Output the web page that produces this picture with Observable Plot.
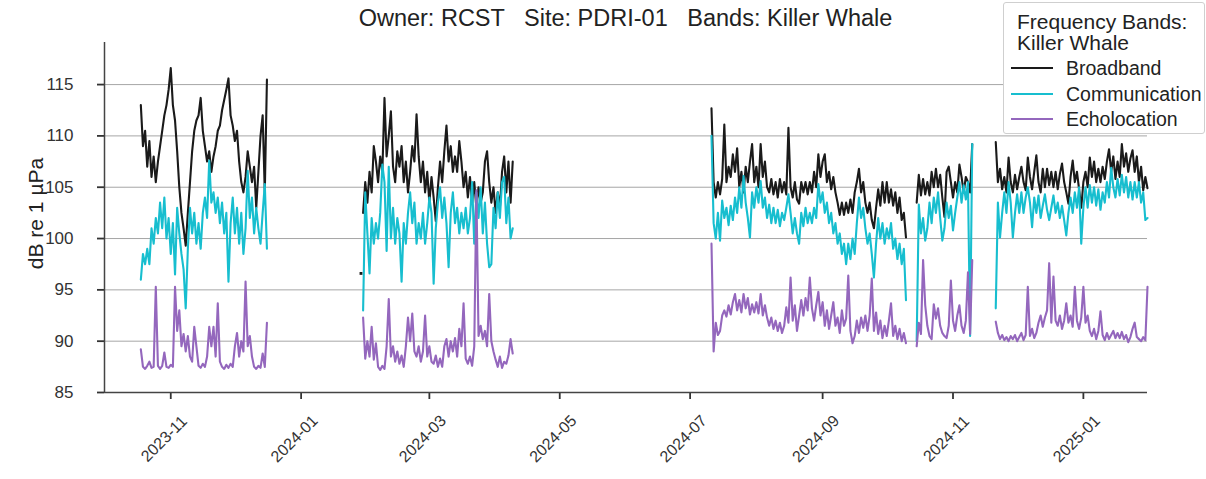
<!DOCTYPE html>
<html>
<head>
<meta charset="utf-8">
<script src="https://cdn.jsdelivr.net/npm/d3@7"></script>
<script src="https://cdn.jsdelivr.net/npm/@observablehq/plot@0.6"></script>
<style>
  html, body { margin: 0; padding: 0; background: #fff; overflow: hidden; }
  #wrap { position: relative; width: 1206px; height: 479px; font-family: "Liberation Sans", Arial, sans-serif; color: #222; }
  #title { position: absolute; top: 3px; left: 625.5px; transform: translateX(-50%); font-size: 23.5px; line-height: 30px; white-space: pre; }
  #legend { position: absolute; left: 1003px; top: 2px; width: 200px; height: 130px; border: 1px solid #cfcfcf; border-radius: 3px; background: #fff; }
  .lg { position: absolute; white-space: pre; }
  .sw { position: absolute; height: 2px; }
</style>
</head>
<body>
<div id="wrap">
  <div id="chart"></div>
  <div id="title">Owner: RCST   Site: PDRI-01   Bands: Killer Whale</div>
  <div id="legend"></div>
</div>
<script>
// ---- data ----
const seriesNames = ["Broadband", "Communication", "Echolocation"];
const seriesColors = ["#1a1a1a", "#17becf", "#9467bd"];
const legendTitle = ["Frequency Bands:", "Killer Whale"];
const yTicks = [85, 90, 95, 100, 105, 110, 115];
const xTickLabels = ["2023-11", "2024-01", "2024-03", "2024-05", "2024-07", "2024-09", "2024-11", "2025-01"];
const xDomain = ["2023-10-01", "2025-01-31"];
const yDomain = [85, 119.1];

const seg1Start = "2023-10-18";
const seg1Broadband = [113, 109, 110.5, 107, 109.5, 106, 108, 105.5, 107.5, 109,
  110.5, 112, 113, 114.5, 116.6, 113, 111.5, 108.5, 105, 102.5,
  101, 99.3, 102.5, 105.5, 108.5, 110.5, 111.5, 112, 113.7, 110.5,
  109, 107.5, 108.5, 106.5, 108, 109, 110.5, 111, 112.5, 113.5,
  114.5, 115.6, 112, 111, 109.5, 110.5, 107.5, 105.5, 104.5, 106,
  108.5, 107, 105.5, 107, 103, 106.5, 110, 112, 104.5, 115.5];
const seg1Communication = [96, 98.5, 97.5, 99, 97.5, 101, 99.5, 102, 100.5, 103.5,
  101, 104, 100, 102, 98.5, 101.5, 96.5, 103, 100.5, 98.5,
  97, 93.2, 99, 103, 100.5, 102.5, 99.5, 101.5, 99, 102.5,
  104, 102, 107.6, 103.5, 104.5, 102.5, 104, 101.5, 103.5, 100.5,
  102.5, 95.8, 101.5, 104, 100.5, 103, 99.5, 102.5, 98.5, 101,
  106.6, 102, 104, 100.5, 103, 101, 99.5, 102.5, 105.3, 99];
const seg1Echolocation = [89.2, 87.5, 87.3, 87.6, 88, 87.4, 87.5, 95.3, 87.6, 87.3,
  87.6, 88.9, 87.5, 87.4, 87.7, 87.5, 95.3, 91, 93, 89.5,
  90.7, 89, 90.5, 88.5, 88, 91.4, 89.5, 87.6, 87.4, 87.8,
  87.5, 88.5, 91.4, 89.5, 91.4, 88.5, 93.7, 88, 87.5, 87.3,
  87.7, 87.4, 87.8, 87.5, 89.5, 90.8, 88.5, 90, 89, 95.8,
  89.5, 90.5, 88.5, 87.5, 87.3, 87.6, 87.4, 88.8, 87.5, 91.8];

const seg2Start = "2024-01-30";
const seg2Broadband = [102.5, 105.5, 103.5, 106.5, 104.5, 109, 107.5, 105.5, 108, 106.5,
  113.7, 108, 110, 112.4, 107, 105.5, 108.5, 107, 109, 105.5,
  107.5, 104.5, 106.5, 109, 107.5, 112.1, 108, 105.5, 107.5, 104.5,
  106.5, 103.5, 106, 104, 101.7, 105, 107.5, 105.5, 108.5, 111,
  107.5, 109, 106.5, 108, 106.5, 109.5, 107.5, 105, 106.5, 104,
  106, 103.5, 105.5, 103, 105, 103.5, 104.5, 107.5, 108.5, 105.5,
  103.5, 105, 102.5, 104.5, 103, 106.5, 108, 104.5, 107.5, 103.5,
  107.5];
const seg2Communication = [93, 104.5, 100.5, 96.6, 102, 99.5, 101.5, 100, 102.5, 107.2,
  105.5, 98.8, 107, 100, 103, 99.5, 102, 100.5, 95.8, 101.5,
  99.5, 102.5, 104.5, 101.5, 103.5, 99.5, 101.5, 100, 102.5, 99.5,
  101.5, 104, 102.5, 95.6, 101, 103.5, 105, 102, 104, 101.5,
  97.2, 102.5, 104.5, 101.5, 103, 100.5, 102.5, 101, 103, 100.5,
  102, 105.5, 99.5, 104.5, 102, 105, 100.5, 103.5, 99.5, 97.2,
  97.5, 103, 101, 104.5, 102, 105.5, 106, 101.5, 104, 100,
  101];
const seg2Echolocation = [92.3, 88.3, 90, 88.5, 91.4, 88.2, 89.8, 87.5, 87.2, 87.6,
  87.3, 89.5, 94.1, 88.5, 89.5, 88, 89, 87.8, 88.6, 87.5,
  89.5, 92.3, 90, 92.7, 89, 88.5, 89.5, 88, 89, 92.5,
  88.5, 89.5, 88, 87.8, 88.6, 87.5, 88.3, 87.5, 89.5, 90.2,
  88.5, 90, 89, 90.3, 88.5, 91.2, 89.5, 93.7, 88.3, 87.8,
  88.5, 87.6, 89.5, 104.7, 90.5, 91.5, 90.2, 91, 89.5, 94.6,
  90, 89, 88.2, 87.5, 88.5, 87.4, 88, 87.8, 88.6, 90.2,
  88.8];

const seg3Start = "2024-07-11";
const seg3Broadband = [112.7, 105.5, 104, 105.5, 104.3, 105.8, 111.1, 105.5, 107, 106,
  108.2, 106.5, 108.8, 105, 106.5, 104.5, 107, 105.5, 107.5, 109.2,
  105.5, 107, 105, 109.2, 106, 107.5, 105, 104.5, 105.8, 104.3,
  105.5, 104, 105.8, 104.5, 105.5, 104.3, 110.8, 105, 104, 105.5,
  103.8, 103.4, 105.5, 104.5, 105.5, 104.3, 105.5, 104.5, 106.5, 105,
  108.2, 106, 107.5, 108.2, 105.5, 106.5, 104.8, 106, 104.5, 103.5,
  102.3, 103.5, 102.3, 103.5, 102.5, 103.8, 102.5, 104.5, 105.5, 106.8,
  104.5, 105.5, 103.5, 102.5, 103.5, 101.8, 101, 103, 104.8, 103.2,
  105.5, 103.5, 105.5, 103.5, 104.8, 103.2, 104.5, 102.5, 104, 101.8,
  102.5, 100.1];
const seg3Communication = [110, 101.5, 100, 102.5, 99.8, 103.7, 102, 103, 101.3, 103.2,
  101.8, 104, 102.5, 105, 103, 106.1, 103.5, 102, 100.1, 104.5,
  103, 105, 103.5, 105.6, 103, 104, 102, 103.3, 101.5, 103,
  101.5, 102.8, 101.2, 102.5, 101.8, 103, 104.3, 102.5, 100.5, 102,
  100.5, 99.5, 102.5, 101.2, 103, 101.5, 102.5, 101.5, 103, 102,
  105.3, 103.5, 104.5, 102.5, 103.5, 101.5, 102.5, 100.5, 101.5, 99.5,
  100.5, 98.5, 99.5, 97.5, 99.5, 98, 100, 98.5, 101.5, 104,
  102, 103, 101, 99.5, 100.5, 98.5, 96.2, 99.5, 102, 100,
  101.5, 99.5, 101, 100, 101.5, 99, 100, 98, 99.5, 97.5,
  99, 94];
const seg3Echolocation = [99.5, 89, 91.8, 90.6, 91, 92.5, 93, 92.4, 93.5, 92.6,
  93.8, 94.6, 93, 94, 92.8, 94.6, 93.2, 94.2, 92.6, 93.6,
  92.8, 93.8, 92.7, 94.6, 92.5, 93.5, 92.3, 91.5, 92.3, 91.2,
  92, 91, 91.8, 90.8, 91.5, 93.3, 91.8, 96.2, 92, 93.5,
  91, 92.5, 94, 92.5, 94.2, 93, 96.2, 93.2, 92, 93.5,
  94.8, 92.5, 93.8, 91.5, 93, 91.2, 92.5, 93.8, 91.5, 92.3,
  90.8, 93, 91.5, 92.2, 96.4, 91, 89.8, 90.5, 92, 90.8,
  92.3, 91.3, 92.5, 91, 92.5, 96.1, 91, 92.8, 90.7, 92,
  90.3, 91.5, 90.5, 92, 93.7, 90.5, 91.5, 90.2, 91.2, 90,
  90.8, 89.8];

const seg4Start = "2024-10-15";
const seg4Broadband = [103.5, 106.2, 104.2, 105.8, 104.3, 105.5, 104.2, 106.5, 105, 106.8,
  105, 106.2, 104, 102.1, 106.5, 107, 105.5, 104, 105.5, 104.5,
  107.2, 106, 104.5, 106, 105.5, 104.5, 109.2];
const seg4Communication = [90, 103.3, 100.5, 102, 99.8, 101, 103.5, 101.5, 104, 102.5,
  104.5, 102, 99.8, 101, 103.5, 102, 103.2, 100.8, 102.5, 104,
  105.5, 103.5, 105.2, 103.8, 105.5, 90.5, 109.2];
const seg4Echolocation = [89.5, 91.8, 90.7, 97.9, 93.5, 91.5, 90.5, 90.2, 93.6, 92.2,
  93.2, 91.5, 90.8, 90.5, 90.3, 91.5, 95.9, 92, 91, 92.5,
  93.5, 91.5, 90.8, 92, 96.7, 90.7, 97.9];

const seg5Start = "2024-11-21";
const seg5Broadband = [109.4, 105.5, 106.8, 104.8, 106, 104.5, 107.9, 105.5, 104.5, 106.2,
  104.8, 106, 107, 105.5, 104.7, 107.9, 106, 104.8, 106.5, 108.1,
  105.5, 104.5, 106.8, 105, 106.8, 105.2, 106.5, 105, 106.5, 104.8,
  106.3, 107.3, 105.5, 104.5, 103.4, 106, 107.6, 105.5, 106.5, 104.8,
  103, 105.5, 106.5, 105, 107.9, 106, 107.5, 105.5, 106.8, 105.5,
  107, 105.8, 107.5, 108.7, 106.5, 108, 105.8, 107.5, 106, 109.2,
  107, 108.3, 106.5, 107.8, 108.6, 106.5, 108, 105.5, 107, 104.7,
  106, 104.9];
const seg5Communication = [93.2, 103.5, 100.1, 102.5, 104.5, 102.5, 105.5, 103.5, 100.1, 102.5,
  104.3, 102.5, 104.5, 102.5, 104, 105, 103.5, 101.1, 104, 102.5,
  104.2, 102, 103.2, 104.3, 102.8, 101.8, 103, 104.2, 102.5, 103.5,
  102, 103.2, 101.8, 100.3, 102.5, 104, 102.5, 104.5, 103, 105,
  99.5, 103, 105, 103, 105.2, 103.5, 105, 103.2, 104.8, 102.8,
  104.5, 103.5, 105.5, 104, 106.9, 105, 104, 105.8, 104.2, 106.2,
  104.5, 106, 104, 105.5, 103.8, 105.5, 104, 105.5, 103.5, 104.5,
  101.8, 102];
const seg5Echolocation = [91.9, 90.8, 90.2, 90.6, 90.1, 90.4, 90, 90.5, 90.2, 90.6,
  90, 90.4, 90.8, 90.1, 90.6, 95.3, 90.5, 91.2, 90.3, 90.8,
  91.8, 92.5, 91.4, 92.3, 93, 97.6, 91.8, 96.3, 92, 91.5,
  92.5, 91.2, 92, 93.7, 91.8, 92.5, 91.4, 95.3, 92, 91.2,
  92.3, 95.3, 91.8, 92.5, 91, 90.5, 91.2, 90.2, 91, 92.9,
  90.6, 90.1, 90.8, 90.2, 90.6, 91, 90.3, 90.8, 90.3, 90.9,
  90.2, 90.6, 89.9, 90.4, 91.2, 91.8, 90.4, 90.2, 90, 90.4,
  90.1, 95.3];

// isolated single readings (no neighbours)
const isolatedDates = ["2024-01-29"];
const isolatedBroadband = [96.6];

// ---- build table ----
const segments = [
  [seg1Start, seg1Broadband, seg1Communication, seg1Echolocation],
  [seg2Start, seg2Broadband, seg2Communication, seg2Echolocation],
  [seg3Start, seg3Broadband, seg3Communication, seg3Echolocation],
  [seg4Start, seg4Broadband, seg4Communication, seg4Echolocation],
  [seg5Start, seg5Broadband, seg5Communication, seg5Echolocation]
];
const parse = d3.utcParse("%Y-%m-%d");
const rows = [];
segments.forEach(([start, ...vals], si) => {
  const s = parse(start);
  vals.forEach((arr, k) => {
    arr.forEach((v, i) => {
      rows.push({date: d3.utcDay.offset(s, i), value: v, series: seriesNames[k], key: seriesNames[k] + si});
    });
  });
});
const isolated = isolatedDates.map((d, i) => ({date: parse(d), value: isolatedBroadband[i], series: seriesNames[0]}));
const xTicks = xTickLabels.map(s => d3.utcParse("%Y-%m")(s));
const x0 = parse(xDomain[0]), x1 = parse(xDomain[1]);

const chart = Plot.plot({
  width: 1206,
  height: 479,
  marginLeft: 104,
  marginRight: 59,
  marginTop: 42,
  marginBottom: 87,
  style: {fontFamily: "'Liberation Sans', Arial, sans-serif", color: "#333", background: "transparent", overflow: "visible"},
  x: {type: "utc", domain: [x0, x1]},
  y: {domain: yDomain},
  color: {domain: seriesNames, range: seriesColors},
  marks: [
    Plot.gridY(yTicks.filter(v => v > yDomain[0]), {stroke: "#a6a6a6", strokeOpacity: 1, strokeWidth: 1}),
    Plot.axisY(yTicks, {tickSize: 7, tickFormat: () => "", label: null, strokeWidth: 1.8, stroke: "#333"}),
    Plot.text(yTicks, {y: d => d, text: d => String(d), frameAnchor: "left", dx: -31, textAnchor: "end", fontSize: 17, fill: "#333"}),
    Plot.axisX(xTicks, {tickSize: 7, tickFormat: () => "", label: null, strokeWidth: 1.8, stroke: "#333"}),
    Plot.text(xTicks, {x: d => d, text: d => d3.utcFormat("%Y-%m")(d), frameAnchor: "bottom", rotate: -45, dx: -3, dy: 50, textAnchor: "middle", fontSize: 16, fill: "#333"}),
    Plot.ruleX([x0], {stroke: "#444", strokeWidth: 1.5}),
    Plot.ruleY([yDomain[0]], {stroke: "#444", strokeWidth: 1.5}),
    Plot.line(rows, {x: "date", y: "value", z: "key", stroke: "series", strokeWidth: 2.1, strokeLinejoin: "round"}),
    Plot.dot(isolated, {x: "date", y: "value", fill: "series", r: 1.6, symbol: "square"}),
    Plot.text(["dB re 1 µPa"], {frameAnchor: "left", dx: -68, dy: -4, rotate: -90, textAnchor: "middle", fontSize: 21, fill: "#222"})
  ]
});
document.getElementById("chart").appendChild(chart);

// ---- legend ----
const lg = document.getElementById("legend");
const ttl = document.createElement("div");
ttl.className = "lg";
ttl.style.left = "13px";
ttl.style.top = "8px";
ttl.style.fontSize = "21px";
ttl.style.lineHeight = "21px";
legendTitle.forEach((t, i) => {
  if (i) ttl.appendChild(document.createElement("br"));
  ttl.appendChild(document.createTextNode(t));
});
lg.appendChild(ttl);
seriesNames.forEach((n, i) => {
  const cy = 65 + i * 25.5;
  const sw = document.createElement("div");
  sw.className = "sw";
  sw.style.left = "7px";
  sw.style.width = "42px";
  sw.style.top = (cy - 1) + "px";
  sw.style.background = seriesColors[i];
  lg.appendChild(sw);
  const el = document.createElement("div");
  el.className = "lg";
  el.textContent = n;
  el.style.left = "62px";
  el.style.top = (cy - 11) + "px";
  el.style.fontSize = "19.5px";
  el.style.lineHeight = "22px";
  lg.appendChild(el);
});
</script>
</body>
</html>
